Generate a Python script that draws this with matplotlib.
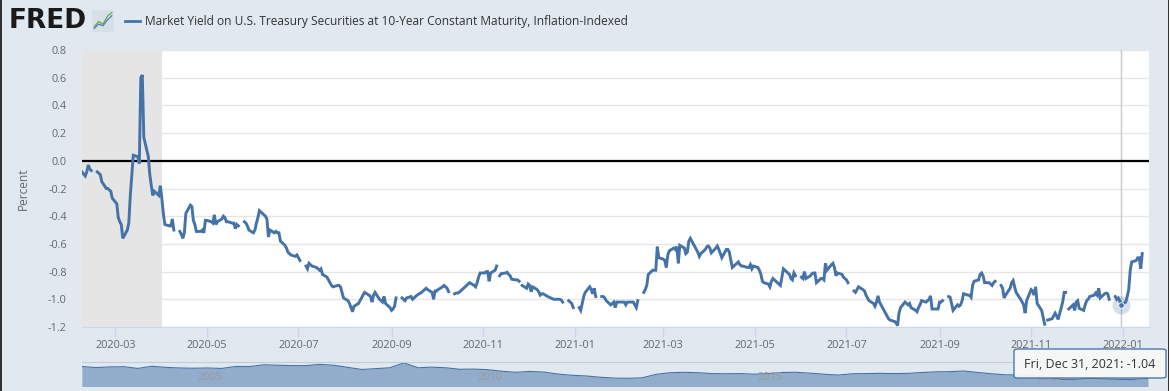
import matplotlib
matplotlib.use('Agg')
import matplotlib.pyplot as plt
import matplotlib.dates as mdates
import numpy as np
import pandas as pd
from matplotlib.patches import Rectangle, FancyBboxPatch
from matplotlib.lines import Line2D

plt.rcParams['font.family'] = ['Open Sans', 'DejaVu Sans']
plt.rcParams['axes.unicode_minus'] = False

na = np.nan

# daily DFII10 (business days), one row per week Mon..Fri, starting Fri 2020-02-07
yield_2020 = [
    -0.07,
    -0.11, -0.08, -0.03, -0.06, -0.07,
    na, -0.08, -0.09, -0.10, -0.15,
    -0.20, -0.20, -0.21, -0.22, -0.27,
    -0.31, -0.41, -0.44, -0.46, -0.56,
    -0.50, -0.45, -0.25, -0.10, 0.04,
    0.03, -0.02, 0.60, 0.62, 0.17,
    0.03, -0.10, -0.18, -0.25, -0.22,
    -0.25, -0.18, -0.27, -0.38, -0.46,
    -0.47, -0.47, -0.42, -0.50, na,
    -0.51, -0.53, -0.56, -0.52, -0.38,
    -0.32, -0.33, -0.43, -0.46, -0.51,
    -0.51, -0.50, -0.52, -0.43, -0.43,
    -0.44, -0.45, -0.39, -0.46, -0.44,
    -0.42, -0.40, -0.41, -0.44, -0.44,
    -0.45, -0.45, -0.49, -0.46, -0.47,
    na, -0.44, -0.45, -0.47, -0.50,
    -0.52, -0.50, -0.45, -0.41, -0.36,
    -0.39, -0.40, -0.42, -0.55, -0.50,
    -0.52, -0.51, -0.52, -0.52, -0.58,
    -0.61, -0.63, -0.66, -0.67, -0.68,
    -0.69, -0.68, -0.70, -0.72, na,
    -0.76, -0.78, -0.74, -0.75, -0.76,
    -0.77, -0.78, -0.79, -0.78, -0.82,
    -0.84, -0.86, -0.88, -0.90, -0.91,
    -0.90, -0.90, -0.91, -0.95, -0.99,
    -1.01, -1.03, -1.06, -1.09, -1.05,
    -1.03, -1.01, -0.99, -0.97, -0.95,
    -0.97, -0.98, -1.02, -0.97, -0.95,
    -1.00, -1.01, -1.02, -0.98, -1.03,
    -1.06, -1.08, -1.07, -1.05, -0.99,
    na, -0.99, -1.00, -1.01, -0.99,
    -0.98, -1.00, -0.99, -0.98, -0.97,
    -0.95, -0.94, -0.93, -0.92, -0.93,
    -0.95, -1.00, -0.94, -0.94, -0.93,
    -0.91, -0.90, -0.91, -0.92, -0.945,
    na, -0.96, -0.955, -0.955, -0.95,
    -0.92, -0.91, -0.90, -0.89, -0.88,
    -0.90, -0.91, -0.88, -0.84, -0.81,
    -0.81, -0.80, -0.80, -0.87, -0.81,
    -0.79, -0.76, na, -0.83, -0.815,
    -0.81, -0.805, -0.82, -0.83, -0.855,
    -0.86, -0.86, -0.87, na, -0.90,
    -0.92, -0.89, -0.90, -0.945, -0.91,
    -0.93, -0.945, -0.97, -0.96, -0.96,
    -0.98, -0.985, -0.99, -0.995, -1.00,
    -1.00, -1.00, -1.005, -1.02, na,
    -1.01, -1.02, -1.03, -1.06, na,
]

# continues Mon 2021-01-04 .. Fri 2022-01-14
yield_2021 = [
    -1.06, -1.08, -1.03, -0.98, -0.95,
    -0.91, -0.93, -0.96, -0.92, -0.98,
    na, -0.98, -0.98, -0.99, -1.01,
    -1.04, -1.03, -1.02, -1.06, -1.02,
    -1.02, -1.02, -1.02, -1.04, -1.02,
    -1.02, -1.02, -1.04, -1.06, -1.01,
    na, -0.95, -0.93, -0.90, -0.82,
    -0.79, -0.79, -0.79, -0.62, -0.70,
    -0.71, -0.72, -0.77, -0.68, -0.65,
    -0.63, -0.64, -0.62, -0.74, -0.61,
    -0.63, -0.67, -0.66, -0.58, -0.56,
    -0.62, -0.64, -0.66, -0.69, -0.67,
    -0.64, -0.62, -0.615, -0.63, -0.665,
    -0.63, -0.615, -0.64, -0.67, -0.70,
    -0.64, -0.64, -0.66, -0.72, -0.77,
    -0.74, -0.73, -0.75, -0.76, -0.76,
    -0.77, -0.77, -0.75, -0.78, -0.76,
    -0.77, -0.79, -0.82, -0.87, -0.88,
    -0.89, -0.91, -0.87, -0.85, -0.86,
    -0.89, -0.90, -0.84, -0.78, -0.79,
    -0.82, -0.85, -0.86, -0.81, -0.83,
    na, -0.84, -0.85, -0.80, -0.85,
    -0.83, -0.815, -0.81, -0.81, -0.88,
    -0.85, -0.85, -0.86, -0.74, -0.79,
    -0.75, -0.74, -0.77, -0.83, -0.81,
    -0.82, -0.84, -0.85, -0.86, -0.88,
    na, -0.94, -0.95, -0.93, -0.91,
    -0.93, -0.94, -0.97, -0.99, -1.01,
    -1.03, -1.05, -1.02, -0.975, -1.02,
    -1.08, -1.10, -1.12, -1.14, -1.15,
    -1.16, -1.17, -1.19, -1.10, -1.06,
    -1.02, -1.03, -1.04, -1.03, -1.06,
    -1.08, -1.09, -1.06, -1.04, -1.01,
    -1.02, -1.01, -1.00, -0.975, -1.07,
    -1.07, -1.07, -1.02, -1.02, -1.01,
    na, -0.98, -0.985, -1.03, -1.08,
    -1.04, -1.05, -1.04, -1.01, -0.96,
    -0.97, -0.97, -0.985, -0.90, -0.87,
    -0.86, -0.82, -0.81, -0.83, -0.88,
    -0.88, -0.89, -0.90, -0.88, -0.87,
    na, -0.90, -0.92, -0.99, -0.97,
    -0.92, -0.88, -0.865, -0.91, -0.95,
    -1.00, -1.02, -1.04, -1.10, -1.01,
    -0.93, -0.94, -0.97, -0.91, -1.03,
    -1.08, -1.13, -1.18, na, -1.15,
    -1.14, -1.12, -1.10, -1.12, -1.145,
    -1.02, -0.95, -0.95, na, -1.07,
    -1.04, -1.08, -1.02, -1.01, -1.065,
    -1.08, -1.04, -1.01, -1.00, -0.98,
    -0.97, -0.955, -0.97, -0.92, -0.99,
    -0.96, -0.955, -0.96, -1.00, na,
    -0.98, -1.00, -0.99, -1.01, -1.04,
    -1.02, -0.98, -0.93, -0.79, -0.73,
    -0.72, -0.70, -0.70, -0.78, -0.67,
]

# long history for the navigator strip (quarterly, 2003 .. 2022)
nav_vals = [
    2.05, 1.80, 1.95, 2.00,
    1.60, 2.10, 1.85, 1.70,
    1.65, 1.70, 1.60, 2.05,
    2.05, 2.45, 2.35, 2.25,
    2.25, 2.55, 2.35, 1.85,
    1.35, 1.55, 1.75, 2.90,
    1.75, 1.90, 1.75, 1.40,
    1.45, 1.30, 0.95, 0.70,
    0.90, 0.75, 0.30, 0.00,
    -0.15, -0.45, -0.65, -0.70,
    -0.60, 0.20, 0.60, 0.70,
    0.60, 0.40, 0.35, 0.40,
    0.25, 0.40, 0.65, 0.70,
    0.50, 0.25, 0.05, 0.35,
    0.40, 0.45, 0.40, 0.45,
    0.65, 0.80, 0.85, 1.00,
    0.65, 0.35, 0.10, 0.10,
    -0.10, -0.45, -0.95, -0.95,
    -0.70, -0.85, -0.95, -1.00,
    -0.70,
]
nav_years = [2005, 2010, 2015, 2020]

title = 'Market Yield on U.S. Treasury Securities at 10-Year Constant Maturity, Inflation-Indexed'
tip_date = pd.Timestamp('2021-12-31')
tip_text = 'Fri, Dec 31, 2021: -1.04'

values = np.array(yield_2020 + yield_2021, dtype=float)
dates = pd.bdate_range('2020-02-07', periods=len(values))
nav_dates = list(pd.date_range('2003-01-01', '2021-10-01', freq='QS')) + [pd.Timestamp('2022-01-14')]

W, H = 1171, 391
BG = '#e1e9f0'
BLUE = '#4572a7'


def fx(x):
    return x / W


def fy(y):
    return 1 - y / H


fig = plt.figure(figsize=(W / 100, H / 100), dpi=100, facecolor=BG)

# main plot
ax = fig.add_axes([fx(82), fy(327), fx(1149) - fx(82), fy(50) - fy(327)])
ax.set_facecolor('white')
ax.axvspan(pd.Timestamp('2020-02-01'), pd.Timestamp('2020-04-01'), color='#e5e5e5', zorder=1, lw=0)
ax.axhline(0, color='black', lw=1.6, zorder=2)
ax.axvline(tip_date, color='#c8c8c8', lw=1, zorder=1.5)
ax.plot(dates, values, color=BLUE, lw=2.1, zorder=3, solid_joinstyle='miter')
tip_val = values[list(dates).index(tip_date)]
ax.plot([tip_date], [tip_val], 'o', ms=13, color=BLUE, alpha=0.22, mec='none', zorder=4)
ax.plot([tip_date], [tip_val], 'o', ms=4, color=BLUE, mec='white', mew=0.6, zorder=5)

ax.set_ylim(-1.2, 0.8)
ax.set_yticks(np.arange(-1.2, 0.81, 0.2))
ax.yaxis.set_major_formatter(plt.FuncFormatter(lambda v, p: '%.1f' % (round(v, 1) + 0.0)))
ax.set_xlim(pd.Timestamp('2020-02-07 20:00'), pd.Timestamp('2022-01-18 12:00'))
ax.xaxis.set_major_locator(mdates.MonthLocator(bymonth=[1, 3, 5, 7, 9, 11]))
ax.xaxis.set_major_formatter(mdates.DateFormatter('%Y-%m'))
ax.grid(axis='y', color='#e6e6e6', lw=1)
ax.set_axisbelow(True)
for s in ['top', 'right', 'left']:
    ax.spines[s].set_visible(False)
ax.spines['bottom'].set_color('#ccd6eb')
ax.tick_params(axis='y', length=0, pad=11, labelsize=7.8, labelcolor='#666666')
ax.tick_params(axis='x', length=7, width=1, color='#ccd6eb', pad=2, labelsize=7.8, labelcolor='#666666')

fig.text(fx(23.5), fy(189), 'Percent', rotation=90, ha='center', va='center', fontsize=8.6, color='#666666')

# navigator
nav = fig.add_axes([fx(82), fy(386), fx(1148) - fx(82), fy(362) - fy(386)])
nav.set_facecolor('none')
nav.fill_between(nav_dates, nav_vals, -3, color=BLUE, alpha=0.5, lw=0)
nav.plot(nav_dates, nav_vals, color=BLUE, lw=0.8)
nav.set_ylim(-2.5, 3.1)
nav.set_xlim(pd.Timestamp('2003-01-02'), pd.Timestamp('2022-01-14'))
nav.set_xticks([])
nav.set_yticks([])
for s in ['bottom', 'right', 'left']:
    nav.spines[s].set_visible(False)
nav.spines['top'].set_color('#c4ccd6')
for yr in nav_years:
    nav.annotate(str(yr), xy=(pd.Timestamp(yr, 1, 1), 0.35), xycoords=('data', 'axes fraction'),
                 xytext=(2.5, 0), textcoords='offset points', ha='left', va='center',
                 fontsize=7.8, color='#9a9a9a')

# header
fig.text(fx(9), fy(21), 'FRED', fontsize=19, fontweight='bold', family='DejaVu Sans',
         color='#1a1a1a', va='center', ha='left')
icon = fig.add_axes([fx(92), fy(32), fx(114) - fx(92), fy(10) - fy(32)])
icon.set_facecolor('#d9dfe6')
icon.plot([0, 1, 2, 3, 4], [0.5, 1.5, 1.0, 2.5, 3.2], color='#6aa84f', lw=0.9)
icon.plot([0, 1, 2, 3, 4], [0.2, 1.0, 0.7, 1.8, 2.6], color='#4a7fb5', lw=0.9)
icon.set_xlim(-0.5, 4.5)
icon.set_ylim(-0.5, 3.7)
icon.set_xticks([])
icon.set_yticks([])
for s in icon.spines.values():
    s.set_visible(False)
fig.add_artist(Line2D([fx(125), fx(140)], [fy(21), fy(21)], color=BLUE, lw=2))
fig.text(fx(145), fy(21), title, fontsize=8.6, color='#333333', va='center', ha='left')

# tooltip
fig.add_artist(FancyBboxPatch((fx(1014), fy(378)), fx(1166) - fx(1014), fy(349) - fy(378),
                              boxstyle='round,pad=0,rounding_size=0.004', transform=fig.transFigure,
                              facecolor='#f7f7f7', edgecolor=BLUE, lw=1, alpha=0.95))
fig.text(fx(1090), fy(364), tip_text, fontsize=9, color='#333333', ha='center', va='center')

# page borders
fig.add_artist(Rectangle((0, 0), fx(2), 1, transform=fig.transFigure, color='#333333', lw=0))
fig.add_artist(Rectangle((fx(1167.5), 0), fx(1.8), 1, transform=fig.transFigure, color='#333333', lw=0))
fig.add_artist(Rectangle((fx(1169.3), 0), fx(1.7), 1, transform=fig.transFigure, color='white', lw=0))

fig.savefig('out.png', dpi=100, facecolor=BG)
